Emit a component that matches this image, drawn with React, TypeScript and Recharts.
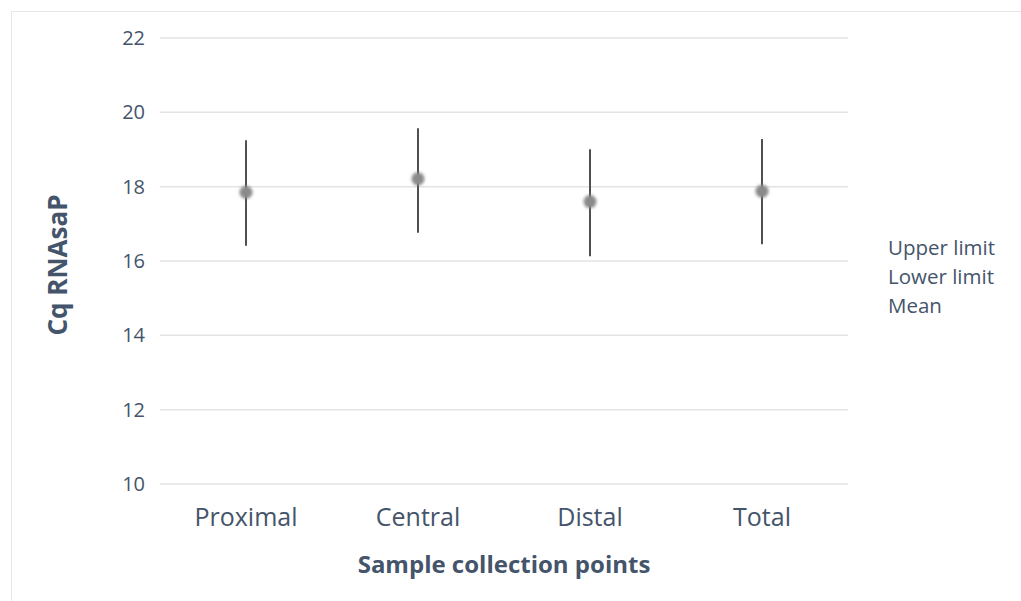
import React from "react";
import {
  ComposedChart,
  Bar,
  Scatter,
  XAxis,
  YAxis,
  CartesianGrid,
  Legend,
  Label,
} from "recharts";

const categories = ["Proximal", "Central", "Distal", "Total"];
const upperLimit = [19.25, 19.57, 19.01, 19.28];
const lowerLimit = [16.41, 16.76, 16.13, 16.45];
const meanValues = [17.85, 18.21, 17.6, 17.88];
const yTicks = [10, 12, 14, 16, 18, 20, 22];
const seriesNames = ["Upper limit", "Lower limit", "Mean"];

const data = categories.map((c, i) => ({
  name: c,
  range: [lowerLimit[i], upperLimit[i]],
  upper: upperLimit[i],
  lower: lowerLimit[i],
  mean: meanValues[i],
}));

const TEXT = "#44546A";
const FONT = "'Open Sans', 'Noto Sans', sans-serif";

const MeanDot = (props: any) => {
  const { cx, cy } = props;
  if (cx == null || cy == null) return null;
  return <circle cx={cx} cy={cy} r={6.5} fill="#8a8a8a" filter="url(#blurDot)" />;
};

const NoShape = () => null;

const LegendContent = () => (
  <div
    style={{
      width: 145,
      paddingLeft: 40,
      boxSizing: "border-box",
      fontFamily: FONT,
      fontSize: 20.5,
      color: TEXT,
      lineHeight: "29px",
    }}
  >
    {seriesNames.map((n) => (
      <div key={n} style={{ whiteSpace: "nowrap" }}>
        {n}
      </div>
    ))}
  </div>
);

export default function App() {
  return (
    <div style={{ position: "absolute", left: 0, top: 0, width: 1021, height: 601, background: "#fff" }}>
      <div
        style={{
          position: "absolute",
          left: 11,
          top: 11,
          width: 1030,
          height: 610,
          borderLeft: "1px solid #e6e6e6",
          borderTop: "1px solid #e6e6e6",
          boxSizing: "border-box",
        }}
      />
      <ComposedChart
        width={1021}
        height={601}
        data={data}
        margin={{ top: 38, right: 28, bottom: 0, left: 0 }}
        style={{ position: "absolute", left: 0, top: 0, fontFamily: FONT }}
      >
        <defs>
          <filter id="blurDot" x="-50%" y="-50%" width="200%" height="200%">
            <feGaussianBlur stdDeviation="1.8" />
          </filter>
        </defs>
        <CartesianGrid vertical={false} stroke="#e3e3e3" strokeWidth={1.5} />
        <XAxis
          dataKey="name"
          type="category"
          axisLine={false}
          tickLine={false}
          tickSize={0}
          tickMargin={24}
          height={117}
          tick={{ fill: TEXT, fontSize: 25, fontFamily: FONT }}
        >
          <Label
            value="Sample collection points"
            position="insideBottom"
            offset={28}
            style={{ fill: TEXT, fontSize: 24, fontWeight: 700, fontFamily: FONT }}
          />
        </XAxis>
        <YAxis
          type="number"
          domain={[10, 22]}
          ticks={yTicks}
          interval={0}
          axisLine={false}
          tickLine={false}
          tickSize={0}
          tickMargin={15}
          width={160}
          tick={{ fill: TEXT, fontSize: 20, fontFamily: FONT }}
        >
          <Label
            content={(p: any) => {
              const vb = p.viewBox || {};
              const cy = vb.y + vb.height / 2 + 4;
              const x = 67;
              return (
                <text
                  x={x}
                  y={cy}
                  transform={`rotate(-90, ${x}, ${cy})`}
                  textAnchor="middle"
                  fill={TEXT}
                  fontSize={26}
                  fontWeight={700}
                  fontFamily={FONT}
                >
                  Cq RNAsaP
                </text>
              );
            }}
          />
        </YAxis>
        <Legend
          layout="vertical"
          align="right"
          verticalAlign="middle"
          content={LegendContent}
          wrapperStyle={{ top: 233 }}
        />
        <Bar dataKey="range" barSize={2} fill="#505050" isAnimationActive={false} legendType="none" />
        <Scatter dataKey="upper" name="Upper limit" shape={NoShape} isAnimationActive={false} />
        <Scatter dataKey="lower" name="Lower limit" shape={NoShape} isAnimationActive={false} />
        <Scatter dataKey="mean" name="Mean" shape={MeanDot} isAnimationActive={false} />
      </ComposedChart>
    </div>
  );
}
